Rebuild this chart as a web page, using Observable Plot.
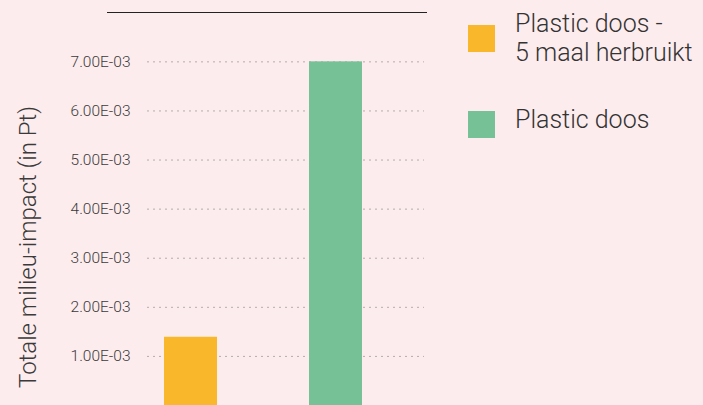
<!DOCTYPE html>
<html>
<head>
<meta charset="utf-8">
<script src="https://cdn.jsdelivr.net/npm/d3@7"></script>
<script src="https://cdn.jsdelivr.net/npm/@observablehq/plot@0.6"></script>
<style>
  html, body { margin: 0; padding: 0; background: #fdeced; }
  #wrap { position: relative; width: 703px; height: 405px; overflow: hidden; background: #fdeced; font-family: Roboto, sans-serif; color: #444; }
  #topline { position: absolute; left: 107px; top: 12px; width: 320px; height: 0; border-top: 1.3px solid #222; }
  #ylabel { position: absolute; left: 16px; top: 388px; transform: rotate(-90deg); transform-origin: left top; font-size: 24px; font-weight: 300; line-height: 1; white-space: nowrap; color: #3a3a3a; }
  .leg-sw { position: absolute; left: 468px; width: 27px; height: 27px; }
  .leg-tx { position: absolute; left: 515px; font-size: 25px; font-weight: 300; line-height: 29.3px; white-space: nowrap; color: #333; }
  #chart { position: absolute; left: 0; top: 0; }
</style>
</head>
<body>
<div id="wrap">
  <div id="chart"></div>
  <div id="topline"></div>
  <div id="ylabel"></div>
</div>
<script>
const categories = ["Plastic doos - 5 maal herbruikt", "Plastic doos"];
const legendLines = [["Plastic doos -", "5 maal herbruikt"], ["Plastic doos"]];
const values = [0.00139, 0.00700];
const colors = ["#f9b82c", "#76c196"];
const tickValues = [0.001, 0.002, 0.003, 0.004, 0.005, 0.006, 0.007];
const yLabel = "Totale milieu-impact (in Pt)";

const data = categories.map((c, i) => ({name: c, value: values[i]}));

function fmt(d) {
  const [m, e] = d.toExponential(2).split("e");
  const n = +e;
  return m + "E" + (n < 0 ? "-" : "+") + String(Math.abs(n)).padStart(2, "0");
}

const chart = Plot.plot({
  width: 703,
  height: 405,
  marginLeft: 147,
  marginRight: 279,
  marginTop: 0,
  marginBottom: 0,
  style: {background: "transparent", fontFamily: "Roboto, sans-serif", fontWeight: 300, color: "#444"},
  x: {domain: categories, range: [164, 362], paddingInner: 0.6345, paddingOuter: 0, axis: null},
  y: {domain: [0, 0.00825], axis: null},
  color: {domain: categories, range: colors},
  marks: [
    Plot.ruleY(tickValues, {stroke: "#b3acac", strokeDasharray: "2,4", strokeWidth: 1}),
    Plot.barY(data, {x: "name", y: "value", fill: "name"}),
    Plot.axisY({ticks: tickValues, tickFormat: fmt, tickSize: 0, tickPadding: 17, fontSize: 15.5, fontWeight: 300, label: null, fill: "#3a3a3a"})
  ]
});
document.getElementById("chart").appendChild(chart);
document.getElementById("ylabel").textContent = yLabel;

// legend
const wrap = document.getElementById("wrap");
const swTops = [25, 111];
const txTops = [8.5, 105.3];
categories.forEach((c, i) => {
  const sw = document.createElement("div");
  sw.className = "leg-sw";
  sw.style.top = swTops[i] + "px";
  sw.style.background = colors[i];
  wrap.appendChild(sw);
  const tx = document.createElement("div");
  tx.className = "leg-tx";
  tx.style.top = txTops[i] + "px";
  tx.innerHTML = legendLines[i].join("<br>");
  wrap.appendChild(tx);
});
</script>
</body>
</html>
